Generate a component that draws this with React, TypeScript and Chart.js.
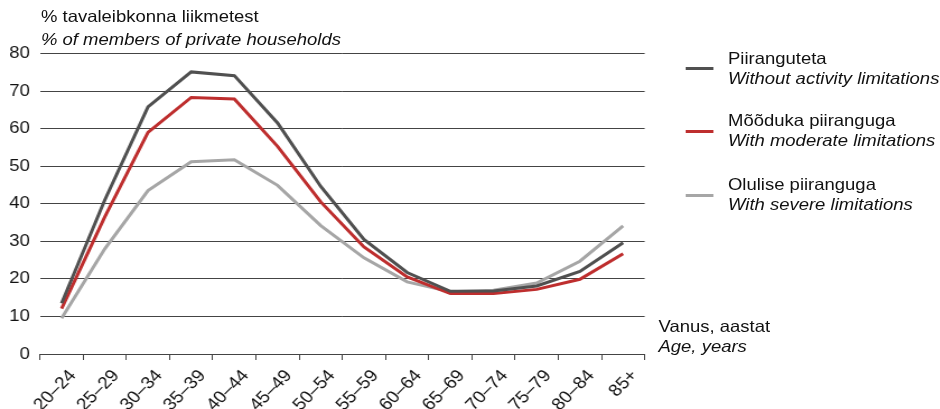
import React, { useEffect, useRef } from "react";
import { Chart, registerables } from "chart.js";

Chart.register(...registerables);

const categories = ["20–24", "25–29", "30–34", "35–39", "40–44", "45–49", "50–54", "55–59", "60–64", "65–69", "70–74", "75–79", "80–84", "85+"];
const withoutLimitations = [13.5, 41, 65.8, 75.1, 74.1, 61.5, 44.6, 30.5, 21.7, 16.7, 16.8, 18.1, 22, 29.6];
const moderateLimitations = [12.1, 36.5, 59, 68.3, 67.9, 55.3, 40.5, 28.5, 20.5, 16.1, 16.1, 17.2, 19.9, 26.7];
const severeLimitations = [9.5, 28, 43.5, 51.2, 51.7, 44.9, 34.2, 25.6, 19.2, 16.6, 17, 18.9, 24.7, 34.1];

const seriesNames = [
  ["Piiranguteta", "Without activity limitations"],
  ["Mõõduka piiranguga", "With moderate limitations"],
  ["Olulise piiranguga", "With severe limitations"],
];
const titleLines = ["% tavaleibkonna liikmetest", "% of members of private households"];
const axisLines = ["Vanus, aastat", "Age, years"];

const COLORS = ["#505050", "#be2e2e", "#a6a6a6"];
const S = 1.12;
const W = 940 / S;
const H = 409;
const FONT = "'Liberation Sans', Arial, sans-serif";
const ROT = (Math.atan(S) * 180) / Math.PI;

export default function App() {
  const ref = useRef<HTMLCanvasElement | null>(null);

  useEffect(() => {
    const canvas = ref.current!;
    const chart = new Chart(canvas, {
      type: "line",
      data: {
        labels: categories,
        datasets: [
          { label: seriesNames[0][0], data: withoutLimitations, borderColor: COLORS[0], backgroundColor: COLORS[0] },
          { label: seriesNames[1][0], data: moderateLimitations, borderColor: COLORS[1], backgroundColor: COLORS[1] },
          { label: seriesNames[2][0], data: severeLimitations, borderColor: COLORS[2], backgroundColor: COLORS[2] },
        ].map((d) => ({ ...d, borderWidth: 3, pointRadius: 0, tension: 0, fill: false })),
      },
      options: {
        animation: false,
        responsive: false,
        devicePixelRatio: 1,
        layout: { padding: { left: 0, right: W - 645 / S, top: 53.5, bottom: 0 } },
        plugins: { legend: { display: false }, tooltip: { enabled: false } },
        scales: {
          x: {
            type: "category",
            offset: true,
            grid: { offset: true, drawOnChartArea: false, drawTicks: true, tickLength: 6, color: "#444", lineWidth: 1 },
            border: { display: true, color: "#444", width: 1 },
            ticks: {
              maxRotation: ROT,
              minRotation: ROT,
              autoSkip: false,
              padding: 6,
              labelOffset: 10,
              color: "#111",
              font: { family: FONT, size: 17 },
            },
            afterFit: (scale: any) => {
              scale.height = H - 354;
            },
          },
          y: {
            min: 0,
            max: 80,
            grid: { color: "#444", lineWidth: 1, drawTicks: false },
            border: { display: false },
            ticks: {
              stepSize: 10,
              padding: 9,
              color: "#111",
              font: { family: FONT, size: 16.5 },
            },
            afterFit: (scale: any) => {
              scale.width = 40 / S;
            },
          },
        },
      },
    });
    return () => chart.destroy();
  }, []);

  const textBase: React.CSSProperties = {
    position: "absolute",
    fontFamily: FONT,
    fontSize: 16.5,
    lineHeight: "20px",
    color: "#111",
    whiteSpace: "nowrap",
    margin: 0,
  };

  const legendTops = [47.6, 110.3, 174.3];
  const legendLineY = [68.3, 131, 195.5];

  return (
    <div style={{ position: "fixed", left: 0, top: 0, width: 940, height: H, overflow: "hidden", background: "#fff" }}>
      <div
        style={{
          position: "absolute",
          left: 0,
          top: 0,
          width: W,
          height: H,
          transform: `scaleX(${S})`,
          transformOrigin: "0 0",
        }}
      >
        <canvas ref={ref} width={Math.round(W)} height={H} style={{ width: Math.round(W), height: H, display: "block" }} />
        <div style={{ ...textBase, left: 41 / S, top: 5.3, lineHeight: "23px" }}>
          <div>{titleLines[0]}</div>
          <div style={{ fontStyle: "italic" }}>{titleLines[1]}</div>
        </div>
        {seriesNames.map((s, i) => (
          <React.Fragment key={i}>
            <div
              style={{
                position: "absolute",
                left: 685 / S,
                width: 28 / S,
                top: legendLineY[i] - 1.5,
                height: 3,
                background: COLORS[i],
              }}
            />
            <div style={{ ...textBase, left: 728 / S, top: legendTops[i] }}>
              <div>{s[0]}</div>
              <div style={{ fontStyle: "italic" }}>{s[1]}</div>
            </div>
          </React.Fragment>
        ))}
        <div style={{ ...textBase, left: 658.5 / S, top: 315.8 }}>
          <div>{axisLines[0]}</div>
          <div style={{ fontStyle: "italic" }}>{axisLines[1]}</div>
        </div>
      </div>
    </div>
  );
}
